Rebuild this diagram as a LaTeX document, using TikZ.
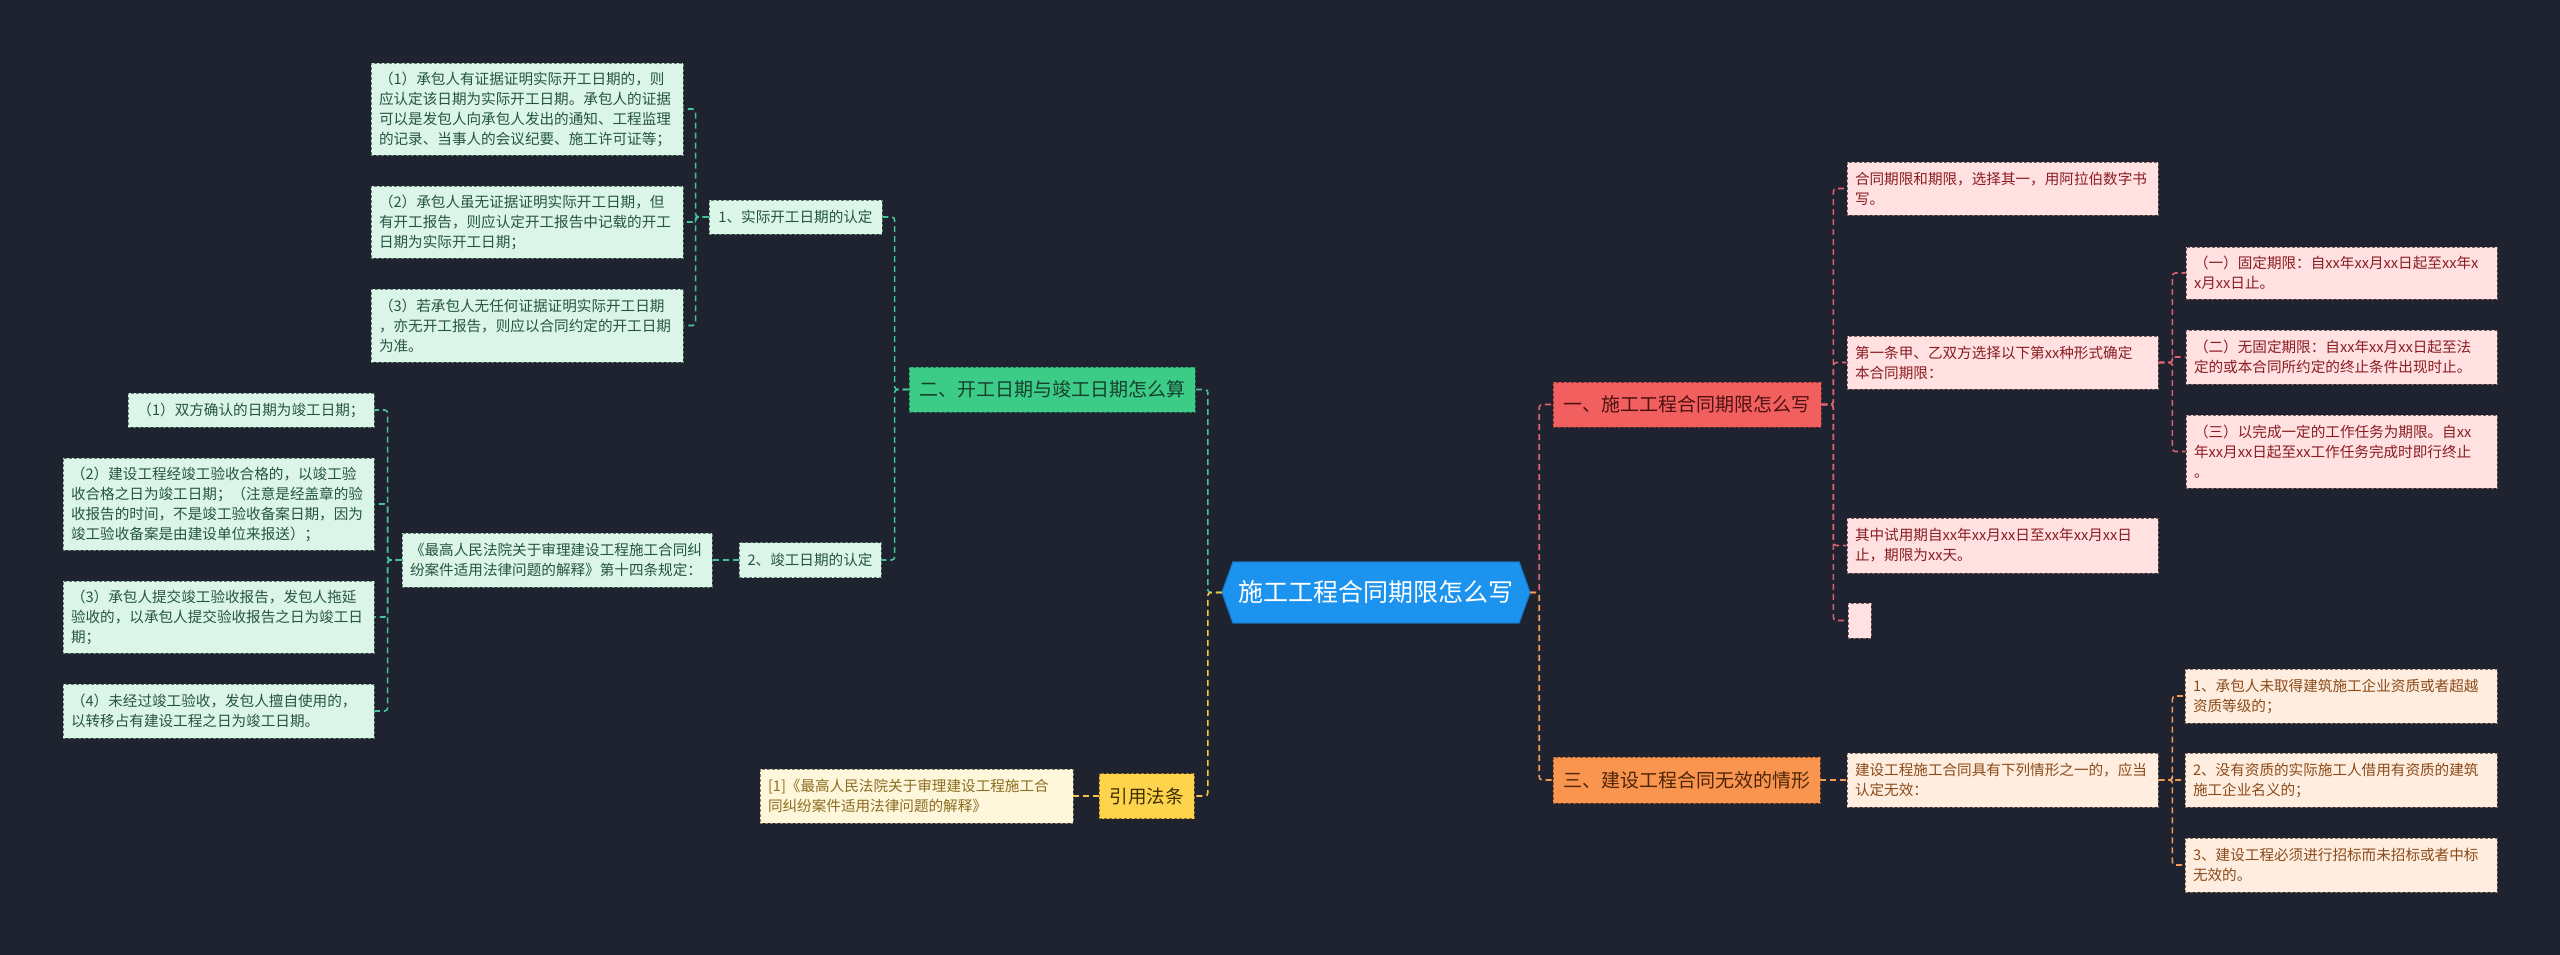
\documentclass[tikz,border=0pt]{standalone}
\usepackage{fontspec}
\setmainfont{Noto Sans CJK SC}
\usetikzlibrary{backgrounds}
\definecolor{bg}{HTML}{1F2330}
\definecolor{mintF}{HTML}{DCF5E9}\definecolor{mintD}{HTML}{5E7F70}\definecolor{mintT}{HTML}{255540}
\definecolor{greenF}{HTML}{3DCB88}\definecolor{greenD}{HTML}{23764F}\definecolor{greenT}{HTML}{17402C}
\definecolor{pinkF}{HTML}{FFE1E1}\definecolor{pinkD}{HTML}{7F6060}\definecolor{pinkT}{HTML}{8A1C22}
\definecolor{redF}{HTML}{F25F5F}\definecolor{redD}{HTML}{8A2E2E}\definecolor{redT}{HTML}{4D1111}
\definecolor{peachF}{HTML}{FFEEDF}\definecolor{peachD}{HTML}{7F6E60}\definecolor{peachT}{HTML}{8B4A1A}
\definecolor{orangeF}{HTML}{FA9550}\definecolor{orangeD}{HTML}{8F5128}\definecolor{orangeT}{HTML}{4D2608}
\definecolor{creamF}{HTML}{FEF7DC}\definecolor{creamD}{HTML}{807A60}\definecolor{creamT}{HTML}{8C6D1F}
\definecolor{yellowF}{HTML}{FED44C}\definecolor{yellowD}{HTML}{8F7520}\definecolor{yellowT}{HTML}{3D2E00}
\definecolor{blueF}{HTML}{1D93F0}\definecolor{blueD}{HTML}{1670B8}
\definecolor{cgreen}{HTML}{45C496}\definecolor{cred}{HTML}{DC6270}
\definecolor{corange}{HTML}{F39C55}\definecolor{cyellow}{HTML}{F2C744}
\begin{document}
\begin{tikzpicture}[x=1pt,y=-1pt,
  box/.style={rectangle, draw, dash pattern=on 3pt off 2pt, line width=0.8pt,
    inner xsep=8pt, inner ysep=5pt, font=\fontsize{14.6}{20}\selectfont, align=left},
  mint/.style={box, fill=mintF, draw=mintD, text=mintT},
  pinkbox/.style={box, fill=pinkF, draw=pinkD, text=pinkT},
  peachbox/.style={box, fill=peachF, draw=peachD, text=peachT},
  creambox/.style={box, fill=creamF, draw=creamD, text=creamT},
  branch/.style={box, font=\fontsize{19}{24}\selectfont, align=center},
  conn/.style={dash pattern=on 6pt off 4pt, line width=1.6pt, rounded corners=3pt},
]
\begin{scope}[on background layer]
\fill[bg] (0,0) rectangle (2560,955);
\end{scope}
\useasboundingbox (0,0) rectangle (2560,955);

% center
\node[font=\fontsize{25}{30}\selectfont, text=white, minimum width=308, minimum height=61, inner sep=0pt] (C) at (1376,592.5) {施工工程合同期限怎么写};
\begin{scope}[on background layer]
\fill[blueF, draw=blueD, line width=1pt] (C.west) -- ([xshift=11pt]C.north west) -- ([xshift=-11pt]C.north east) -- (C.east) -- ([xshift=-11pt]C.south east) -- ([xshift=11pt]C.south west) -- cycle;
\end{scope}

% left branch
\node[branch, fill=greenF, draw=greenD, text=greenT, minimum width=286, minimum height=45] (G) at (1052,389.5) {二、开工日期与竣工日期怎么算};
\node[mint, minimum width=173, minimum height=34, align=center] (S1) at (795.5,217) {1、实际开工日期的认定};
\node[mint, minimum width=142, minimum height=35, align=center] (S2) at (810,560) {2、竣工日期的认定};
\node[mint, text width=296, minimum height=92] (L1a) at (527,109) {（1）承包人有证据证明实际开工日期的，则\\应认定该日期为实际开工日期。承包人的证据\\可以是发包人向承包人发出的通知、工程监理\\的记录、当事人的会议纪要、施工许可证等；};
\node[mint, text width=296, minimum height=72] (L1b) at (527,222) {（2）承包人虽无证据证明实际开工日期，但\\有开工报告，则应认定开工报告中记载的开工\\日期为实际开工日期；};
\node[mint, text width=296, minimum height=73] (L1c) at (527,325.5) {（3）若承包人无任何证据证明实际开工日期\\，亦无开工报告，则应以合同约定的开工日期\\为准。};
\node[mint, text width=294, minimum height=54] (Law) at (557,560) {《最高人民法院关于审理建设工程施工合同纠\\纷案件适用法律问题的解释》第十四条规定：};
\node[mint, minimum width=246, minimum height=34, align=center] (L2a) at (251,410) {（1）双方确认的日期为竣工日期；};
\node[mint, text width=295, minimum height=92] (L2b) at (218.5,504) {（2）建设工程经竣工验收合格的，以竣工验\\收合格之日为竣工日期；（注意是经盖章的验\\收报告的时间，不是竣工验收备案日期，因为\\竣工验收备案是由建设单位来报送）；};
\node[mint, text width=295, minimum height=72] (L2c) at (218.5,617) {（3）承包人提交竣工验收报告，发包人拖延\\验收的，以承包人提交验收报告之日为竣工日\\期；};
\node[mint, text width=295, minimum height=54] (L2d) at (218.5,711) {（4）未经过竣工验收，发包人擅自使用的，\\以转移占有建设工程之日为竣工日期。};

\node[branch, fill=yellowF, draw=yellowD, text=yellowT, minimum width=95, minimum height=45, font=\fontsize{18.5}{24}\selectfont] (Y) at (1146.5,796) {引用法条};
\node[creambox, text width=297, minimum height=54] (Y1) at (916.5,796) {[1]《最高人民法院关于审理建设工程施工合\\同纠纷案件适用法律问题的解释》};

% right branch
\node[branch, fill=redF, draw=redD, text=redT, minimum width=268, minimum height=45] (R) at (1687,404.5) {一、施工工程合同期限怎么写};
\node[pinkbox, text width=295, minimum height=53] (R1a) at (2002.5,188.5) {合同期限和期限，选择其一，用阿拉伯数字书\\写。};
\node[pinkbox, text width=295, minimum height=53] (R1b) at (2002.5,362.5) {第一条甲、乙双方选择以下第xx种形式确定\\本合同期限：};
\node[pinkbox, text width=295, minimum height=55] (R1c) at (2002.5,545.5) {其中试用期自xx年xx月xx日至xx年xx月xx日\\止，期限为xx天。};
\node[pinkbox, minimum width=23, minimum height=35, inner sep=0pt] (R1d) at (1859.5,620.5) {};
\node[pinkbox, text width=295, minimum height=52] (R2a) at (2341.5,273) {（一）固定期限：自xx年xx月xx日起至xx年x\\x月xx日止。};
\node[pinkbox, text width=295, minimum height=54] (R2b) at (2341.5,357) {（二）无固定期限：自xx年xx月xx日起至法\\定的或本合同所约定的终止条件出现时止。};
\node[pinkbox, text width=295, minimum height=73] (R2c) at (2341.5,451.5) {（三）以完成一定的工作任务为期限。自xx\\年xx月xx日起至xx工作任务完成时即行终止\\。};

\node[branch, fill=orangeF, draw=orangeD, text=orangeT, minimum width=267, minimum height=46] (O) at (1686.5,780) {三、建设工程合同无效的情形};
\node[peachbox, text width=295, minimum height=54] (R3a) at (2002.5,780) {建设工程施工合同具有下列情形之一的，应当\\认定无效：};
\node[peachbox, text width=296, minimum height=54] (R3b1) at (2341,696) {1、承包人未取得建筑施工企业资质或者超越\\资质等级的；};
\node[peachbox, text width=296, minimum height=54] (R3b2) at (2341,780) {2、没有资质的实际施工人借用有资质的建筑\\施工企业名义的；};
\node[peachbox, text width=296, minimum height=54] (R3b3) at (2341,865) {3、建设工程必须进行招标而未招标或者中标\\无效的。};

% connectors left
\draw[conn, cgreen] (C.west) -- ++(-14,0) |- (G.east);
\draw[conn, cyellow] (C.west) -- ++(-14,0) |- (Y.east);
\draw[conn, cgreen] (G.west) -- ++(-14,0) |- (S1.east);
\draw[conn, cgreen] (G.west) -- ++(-14,0) |- (S2.east);
\foreach \n in {L1a,L1b,L1c} \draw[conn, cgreen] (S1.west) -- ++(-13,0) |- (\n.east);
\draw[conn, cgreen] (S2.west) -- (Law.east);
\foreach \n in {L2a,L2b,L2c,L2d} \draw[conn, cgreen] (Law.west) -- ++(-14,0) |- (\n.east);
\draw[conn, cyellow] (Y.west) -- (Y1.east);

% connectors right
\draw[conn, cred] (C.east) -- ++(9,0) |- (R.west);
\draw[conn, corange] (C.east) -- ++(9,0) |- (O.west);
\foreach \n in {R1a,R1b,R1c,R1d} \draw[conn, cred] (R.east) -- ++(12,0) |- (\n.west);
\foreach \n in {R2a,R2b,R2c} \draw[conn, cred] (R1b.east) -- ++(14,0) |- (\n.west);
\draw[conn, corange] (O.east) -- (R3a.west);
\foreach \n in {R3b1,R3b2,R3b3} \draw[conn, corange] (R3a.east) -- ++(14,0) |- (\n.west);
\end{tikzpicture}
\end{document}
